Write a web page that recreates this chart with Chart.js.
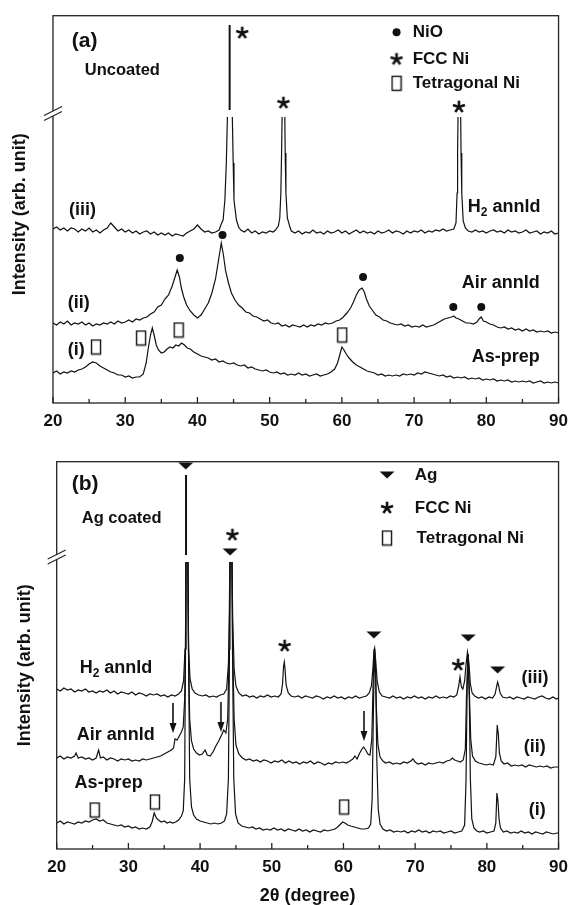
<!DOCTYPE html>
<html>
<head>
<meta charset="utf-8">
<script src="https://cdn.jsdelivr.net/npm/chart.js@4.4.1/dist/chart.umd.min.js"></script>
<style>
  html, body { margin: 0; padding: 0; background: #fff; overflow: hidden; }
  #wrap { position: relative; width: 576px; height: 905px; }
  canvas { position: absolute; left: 0; }
  #chartA { top: 0; }
  #chartB { top: 445px; }
</style>
</head>
<body>
<div id="wrap">
  <canvas id="chartA" width="576" height="445"></canvas>
  <canvas id="chartB" width="576" height="460"></canvas>
</div>
<script>
const FONT = "'Liberation Sans', Arial, Helvetica, sans-serif";
const INK = '#111';
Chart.defaults.font.family = FONT;
Chart.defaults.color = INK;

// ---------- data (2theta in degrees, intensity in arb. units) ----------
const xTickLabels = [20, 30, 40, 50, 60, 70, 80, 90];

// (a) uncoated
const h2AnnldA = [[20,174],[20.5,176],[21,173],[21.5,175],[22,172],[22.5,175],[23,174],[23.5,171],[24,174],[24.5,172],[25,175],[25.5,171],[26,173],[26.5,170],[27,173],[27.5,175],[28,180],[28.5,176],[29,172],[29.5,174],[30,171],[30.5,173],[31,170],[31.5,172],[32,169],[32.5,171],[33,172],[33.5,169],[34,171],[34.5,168],[35,170],[35.5,168],[36,170],[36.5,167],[37,169],[37.5,168],[38,167],[38.5,170],[39,172],[39.5,174],[40,178],[40.5,174],[41,171],[41.5,172],[42,170],[42.5,171],[43,173],[43.3,179],[43.55,183],[43.8,203],[44,240],[44.15,286],[44.5,null],[44.83,286],[44.95,240],[45.06,203],[45.4,183],[45.7,176],[46,173],[46.5,171],[47,174],[47.5,170],[48,172],[48.5,169],[49,171],[49.5,170],[50,172],[50.5,171],[50.8,173],[51.2,177],[51.4,185],[51.55,210],[51.65,250],[51.72,286],[51.9,null],[52.1,286],[52.15,250],[52.25,210],[52.45,185],[52.8,176],[53,172],[53.5,170],[54,172],[54.5,169],[55,171],[55.5,170],[56,173],[56.5,170],[57,171],[57.5,169],[58,172],[58.5,170],[59,171],[59.5,173],[60,170],[60.5,172],[61,169],[61.5,171],[62,173],[62.5,170],[63,172],[63.5,170],[64,171],[64.5,169],[65,172],[65.5,170],[66,171],[66.5,173],[67,170],[67.5,172],[68,171],[68.5,169],[69,172],[69.5,170],[70,172],[70.5,171],[71,173],[71.5,170],[72,172],[72.5,171],[73,173],[73.5,172],[74,174],[74.5,172],[75,173],[75.5,174],[75.8,180],[75.95,210],[76.02,250],[76.08,286],[76.25,null],[76.45,286],[76.5,250],[76.6,210],[76.8,182],[77.1,175],[77.5,172],[78,171],[78.5,173],[79,171],[79.5,172],[80,170],[80.5,172],[81,173],[81.5,171],[82,172],[82.5,170],[83,173],[83.5,171],[84,172],[84.5,170],[85,171],[85.5,173],[86,170],[86.5,171],[87,172],[87.5,169],[88,171],[88.5,170],[89,172],[89.5,169],[90,170]];
const h2PeakTopA = [[44.46,293],[44.46,378]];

const airAnnldA = [[20,80],[20.5,78],[21,81],[21.5,79],[22,82],[22.5,78],[23,80],[23.5,79],[24,81],[24.5,78],[25,80],[25.5,77],[26,79],[26.5,78],[27,80],[27.5,79],[28,81],[28.5,79],[29,82],[29.5,80],[30,81],[30.5,83],[31,81],[31.5,84],[32,83],[32.5,85],[33,86],[33.5,89],[34,91],[34.5,96],[35,98],[35.5,104],[36,108],[36.5,117],[36.9,126],[37.2,133],[37.5,126],[37.8,114],[38.1,106],[38.5,98],[39,92],[39.5,88],[40,85],[40.5,88],[41,94],[41.5,100],[42,110],[42.5,124],[42.9,142],[43.3,160],[43.6,148],[43.9,132],[44.3,120],[44.7,110],[45.2,103],[45.7,98],[46.2,95],[46.7,91],[47.2,90],[47.7,87],[48.2,86],[48.7,84],[49.2,82],[49.7,83],[50.2,80],[50.7,79],[51.2,80],[51.7,77],[52.2,78],[52.7,76],[53.2,78],[53.7,77],[54.2,76],[54.7,78],[55.2,76],[55.7,78],[56.2,77],[56.7,79],[57.2,78],[57.7,80],[58.2,79],[58.7,80],[59.2,82],[59.7,83],[60.2,86],[60.7,90],[61.2,95],[61.6,101],[62,108],[62.4,113],[62.8,115],[63.1,111],[63.4,104],[63.8,97],[64.2,93],[64.7,88],[65.2,86],[65.7,83],[66.2,82],[66.7,80],[67.2,79],[67.7,78],[68.2,79],[68.7,77],[69.2,78],[69.7,76],[70.2,77],[70.7,76],[71.2,78],[71.7,76],[72.2,77],[72.7,78],[73.2,80],[73.7,82],[74.2,84],[74.7,85],[75.2,86],[75.5,87],[75.8,85],[76.2,84],[76.7,82],[77.2,80],[77.7,80],[78.2,79],[78.7,81],[79,84],[79.3,86],[79.6,82],[80,81],[80.5,79],[81,78],[81.5,76],[82,75],[82.5,76],[83,74],[83.5,75],[84,73],[84.5,74],[85,72],[85.5,74],[86,72],[86.5,73],[87,71],[87.5,72],[88,71],[88.5,72],[89,70],[89.5,71],[90,70]];

const asPrepA = [[20,30],[20.5,32],[21,29],[21.5,31],[22,30],[22.5,32],[23,31],[23.5,33],[24,34],[24.5,36],[25,39],[25.5,41],[26,40],[26.5,37],[27,35],[27.5,33],[28,31],[28.5,30],[29,28],[29.5,28],[30,26],[30.5,27],[31,25],[31.5,26],[32,26],[32.5,29],[32.9,40],[33.2,55],[33.5,68],[33.75,75],[34,68],[34.3,58],[34.6,53],[35,50],[35.4,51],[35.8,54],[36.2,56],[36.6,55],[37,58],[37.4,57],[37.8,60],[38.2,58],[38.6,55],[39,54],[39.5,51],[40,49],[40.5,47],[41,46],[41.5,45],[42,43],[42.5,44],[43,41],[43.5,42],[44,40],[44.5,39],[45,40],[45.5,38],[46,37],[46.5,38],[47,35],[47.5,36],[48,34],[48.5,33],[49,32],[49.5,33],[50,31],[50.5,30],[51,31],[51.5,29],[52,30],[52.5,28],[53,29],[53.5,28],[54,30],[54.5,28],[55,29],[55.5,27],[56,28],[56.5,29],[57,27],[57.5,28],[58,29],[58.5,31],[59,34],[59.4,40],[59.7,48],[60,56],[60.3,53],[60.6,49],[61,45],[61.5,41],[62,38],[62.5,36],[63,34],[63.5,32],[64,31],[64.5,30],[65,28],[65.5,29],[66,27],[66.5,28],[67,27],[67.5,28],[68,27],[68.5,29],[69,28],[69.5,29],[70,28],[70.5,30],[71,29],[71.5,31],[72,30],[72.5,29],[73,28],[73.5,27],[74,28],[74.5,26],[75,27],[75.5,25],[76,26],[76.5,25],[77,26],[77.5,24],[78,25],[78.5,24],[79,25],[79.5,23],[80,24],[80.5,23],[81,24],[81.5,22],[82,23],[82.5,22],[83,23],[83.5,21],[84,22],[84.5,21],[85,22],[85.5,21],[86,22],[86.5,20],[87,21],[87.5,22],[88,20],[88.5,21],[89,20],[89.5,21],[90,20]];

const nioDotsA = [[37.56,145],[43.47,168],[62.93,126],[75.43,96],[79.3,96]];
const fccStarsA = [[46.2,370],[51.9,300],[76.2,296]];
const tetraBoxesA = [[25.96,56],[32.2,65],[37.4,73],[60.05,68]];

// (b) Ag coated
const h2AnnldB = [[20,160],[20.5,158],[21,161],[21.5,159],[22,160],[22.5,157],[23,159],[23.5,158],[24,160],[24.5,157],[25,158],[25.5,156],[26,158],[26.5,157],[27,159],[27.5,156],[28,158],[28.5,155],[29,157],[29.5,156],[30,155],[30.5,157],[31,154],[31.5,156],[32,155],[32.5,153],[33,155],[33.5,154],[34,155],[34.5,153],[35,154],[35.5,152],[36,154],[36.5,153],[37,155],[37.4,158],[37.7,168],[37.9,200],[38,287],[38.15,null],[38.3,287],[38.4,200],[38.6,170],[38.9,160],[39.3,156],[39.8,154],[40.3,153],[40.8,154],[41.3,152],[41.8,153],[42.3,152],[42.8,154],[43.3,155],[43.7,160],[43.95,185],[44.1,230],[44.2,287],[44.3,null],[44.45,287],[44.55,230],[44.75,180],[45,163],[45.4,156],[45.9,153],[46.4,154],[46.9,152],[47.4,153],[47.9,151],[48.4,153],[48.9,152],[49.4,154],[49.9,152],[50.4,153],[50.9,152],[51.3,155],[51.5,165],[51.65,183],[51.75,187],[51.85,180],[52,164],[52.3,156],[52.7,153],[53.2,152],[53.7,153],[54.2,151],[54.7,153],[55.2,152],[55.7,151],[56.2,153],[56.7,152],[57.2,150],[57.7,152],[58.2,151],[58.7,153],[59.2,151],[59.7,152],[60.2,150],[60.7,152],[61.2,151],[61.7,153],[62.2,151],[62.7,152],[63.2,153],[63.6,156],[63.9,163],[64.1,180],[64.25,198],[64.35,201],[64.5,188],[64.7,168],[65,157],[65.4,153],[65.9,152],[66.4,151],[66.9,153],[67.4,151],[67.9,152],[68.4,150],[68.9,152],[69.4,151],[69.9,153],[70.4,151],[70.9,152],[71.4,150],[71.9,152],[72.4,151],[72.9,153],[73.4,151],[73.9,152],[74.4,151],[74.9,153],[75.4,152],[75.8,154],[76.05,162],[76.25,172],[76.45,162],[76.65,160],[76.9,168],[77.1,185],[77.3,197],[77.5,186],[77.7,165],[77.95,156],[78.3,153],[78.8,151],[79.3,152],[79.8,150],[80.3,152],[80.8,151],[81.15,155],[81.35,162],[81.5,167],[81.65,163],[81.85,156],[82.2,152],[82.7,151],[83.2,152],[83.7,150],[84.2,152],[84.7,151],[85.2,150],[85.7,152],[86.2,151],[86.7,150],[87.2,152],[87.7,153],[88.2,151],[88.7,150],[89.2,152],[89.7,150],[90,151]];
const agPeakTopB = [[38.04,294],[38.04,374]];

const airAnnldB = [[20,91],[20.5,93],[21,90],[21.5,92],[22,91],[22.5,93],[22.7,96],[23,91],[23.5,92],[24,90],[24.5,91],[25,89],[25.5,91],[25.85,99],[26.1,91],[26.5,92],[27,89],[27.5,91],[28,90],[28.5,88],[29,90],[29.5,89],[30,90],[30.5,88],[31,89],[31.5,88],[32,90],[32.5,89],[33,90],[33.5,91],[34,92],[34.5,93],[35,95],[35.5,97],[36,99],[36.3,101],[36.5,110],[36.8,109],[37.1,113],[37.4,117],[37.65,122],[37.85,150],[37.95,200],[38.05,287],[38.2,null],[38.3,287],[38.4,190],[38.55,130],[38.8,108],[39.1,100],[39.5,96],[39.9,94],[40.3,95],[40.7,99],[41,94],[41.4,93],[41.8,97],[42.2,103],[42.6,108],[43,114],[43.3,119],[43.6,116],[43.85,130],[44,180],[44.15,287],[44.3,null],[44.45,287],[44.55,200],[44.75,130],[45,104],[45.4,95],[45.9,91],[46.4,89],[46.9,90],[47.4,88],[47.9,89],[48.4,87],[48.9,89],[49.4,88],[49.9,86],[50.4,88],[50.9,87],[51.4,89],[51.9,86],[52.4,88],[52.9,86],[53.4,87],[53.9,85],[54.4,87],[54.9,86],[55.4,88],[55.9,85],[56.4,87],[56.9,86],[57.4,84],[57.9,86],[58.4,85],[58.9,87],[59.4,86],[59.9,87],[60.4,86],[60.9,88],[61.3,90],[61.6,93],[61.9,90],[62.2,95],[62.5,99],[62.8,102],[63.1,99],[63.4,95],[63.7,94],[63.95,110],[64.15,170],[64.3,200],[64.45,185],[64.6,140],[64.8,105],[65.1,92],[65.5,88],[65.9,86],[66.4,87],[66.9,85],[67.4,86],[67.9,85],[68.4,87],[68.9,86],[69.4,88],[69.7,90],[70,87],[70.4,85],[70.9,86],[71.4,84],[71.9,86],[72.4,85],[72.9,86],[73.4,87],[73.9,86],[74.4,88],[74.9,89],[75.2,91],[75.5,89],[75.9,88],[76.3,87],[76.7,89],[77,100],[77.15,150],[77.35,195],[77.55,160],[77.75,110],[78,93],[78.4,88],[78.9,86],[79.4,85],[79.9,84],[80.4,85],[80.9,84],[81.25,92],[81.45,124],[81.6,115],[81.75,96],[82,88],[82.4,85],[82.9,86],[83.4,83],[83.9,84],[84.4,83],[84.9,84],[85.4,82],[85.9,84],[86.4,83],[86.9,82],[87.4,83],[87.9,82],[88.4,83],[88.9,81],[89.4,82],[90,82]];

const asPrepB = [[20,26],[20.5,28],[21,25],[21.5,27],[22,26],[22.5,25],[23,27],[23.5,26],[24,28],[24.5,27],[25,29],[25.5,30],[26,28],[26.5,29],[27,26],[27.5,25],[28,24],[28.5,23],[29,24],[29.5,22],[30,23],[30.5,21],[31,22],[31.5,20],[32,21],[32.5,20],[33,22],[33.3,27],[33.6,36],[33.9,31],[34.2,29],[34.6,27],[35,28],[35.4,26],[35.8,27],[36.2,26],[36.6,27],[37,29],[37.4,33],[37.65,38],[37.85,70],[37.97,200],[38.03,287],[38.15,null],[38.3,287],[38.38,200],[38.55,70],[38.8,42],[39.1,34],[39.5,30],[40,28],[40.5,27],[41,26],[41.5,25],[42,26],[42.5,25],[43,26],[43.4,28],[43.7,35],[43.95,70],[44.1,200],[44.17,287],[44.3,null],[44.45,287],[44.52,200],[44.7,70],[44.95,35],[45.3,26],[45.8,23],[46.3,22],[46.8,21],[47.3,22],[47.8,20],[48.3,21],[48.8,19],[49.3,20],[49.8,19],[50.3,21],[50.8,19],[51.3,20],[51.8,18],[52.3,20],[52.8,19],[53.3,18],[53.8,20],[54.3,18],[54.8,19],[55.3,17],[55.8,19],[56.3,18],[56.8,17],[57.3,19],[57.8,18],[58.3,19],[58.8,20],[59.2,22],[59.6,25],[59.9,27],[60.2,26],[60.6,24],[61,23],[61.5,22],[62,21],[62.5,20],[63,20],[63.5,21],[63.8,25],[64,50],[64.2,150],[64.35,200],[64.5,170],[64.65,90],[64.85,40],[65.1,25],[65.5,20],[66,18],[66.5,19],[67,17],[67.5,18],[68,17],[68.5,18],[69,16],[69.5,18],[70,17],[70.5,19],[71,17],[71.5,18],[72,16],[72.5,18],[73,17],[73.5,18],[74,16],[74.5,17],[75,18],[75.5,16],[76,17],[76.5,18],[76.9,24],[77.1,70],[77.25,160],[77.4,195],[77.55,150],[77.7,70],[77.9,30],[78.2,21],[78.6,18],[79,17],[79.5,18],[80,16],[80.5,17],[81,18],[81.25,26],[81.4,56],[81.55,48],[81.7,30],[81.9,21],[82.3,17],[82.8,18],[83.3,16],[83.8,17],[84.3,16],[84.8,18],[85.3,16],[85.8,17],[86.3,15],[86.8,17],[87.3,16],[87.8,15],[88.3,17],[88.8,16],[89.3,15],[89.8,16],[90,16]];

const agTrianglesB = [[38.0,383],[44.19,297],[64.24,214],[77.4,211],[81.5,179]];
const fccStarsB = [[44.51,314],[51.8,203],[76.0,184]];
const tetraBoxesB = [[25.3,39],[33.7,47],[60.1,42]];
const arrowsB = [[36.22,131],[42.9,132],[62.86,123]];

// ---------- marker images ----------
function makeImg(w, h, draw) {
  const c = document.createElement('canvas');
  c.width = w; c.height = h;
  const g = c.getContext('2d');
  g.fillStyle = INK; g.strokeStyle = INK;
  draw(g);
  return c;
}
const starImg = makeImg(16, 16, g => {
  g.lineWidth = 2.6;
  for (let k = 0; k < 5; k++) {
    const a = -Math.PI / 2 + k * 2 * Math.PI / 5;
    g.beginPath(); g.moveTo(8, 8);
    g.lineTo(8 + 6.3 * Math.cos(a), 8 + 6.3 * Math.sin(a));
    g.stroke();
  }
});
const boxImg = makeImg(12, 17, g => { g.lineWidth = 1.4; g.strokeRect(1.5, 1.5, 9, 14); });
const triImg = makeImg(16, 8, g => {
  g.beginPath(); g.moveTo(0.5, 0.5); g.lineTo(15.5, 0.5); g.lineTo(8, 7.5); g.closePath(); g.fill();
});
const arrowImg = makeImg(8, 30, g => {
  g.lineWidth = 1.6;
  g.beginPath(); g.moveTo(4, 0); g.lineTo(4, 22); g.stroke();
  g.beginPath(); g.moveTo(0.5, 20); g.lineTo(7.5, 20); g.lineTo(4, 30); g.closePath(); g.fill();
});

const pts = arr => arr.map(([x, y]) => ({ x, y }));
const curve = (arr, w) => ({
  data: pts(arr), borderColor: INK, borderWidth: w || 1.2,
  pointRadius: 0, tension: 0, spanGaps: false, fill: false
});
const marks = (arr, style, r) => ({
  data: pts(arr), showLine: false, pointStyle: style, pointRadius: r || 4,
  backgroundColor: INK, borderColor: INK, borderWidth: 0, clip: false
});

// ---------- labels & legend (positions in data units) ----------
const labelsA = [
  { t: '(a)', x: 22.6, y: 362, size: 21 },
  { t: 'Uncoated', x: 24.4, y: 333, size: 16.5 },
  { t: '(iii)', x: 22.2, y: 193 },
  { t: '(ii)', x: 22.05, y: 100 },
  { t: '(i)', x: 22.05, y: 53 },
  { t: 'H_2 annld', x: 87.5, y: 196, align: 'right' },
  { t: 'Air annld', x: 87.4, y: 120, align: 'right' },
  { t: 'As-prep', x: 87.4, y: 46, align: 'right' }
];
const legendA = [
  { mark: 'dot', x: 67.57, y: 370.7, tx: 69.8, t: 'NiO' },
  { mark: starImg, x: 67.57, y: 343.7, tx: 69.8, t: 'FCC Ni' },
  { mark: boxImg, x: 67.57, y: 319.7, tx: 69.8, t: 'Tetragonal Ni' }
];
const labelsB = [
  { t: '(b)', x: 22.1, y: 365, size: 21 },
  { t: 'Ag coated', x: 23.5, y: 331, size: 16.5 },
  { t: 'H_2 annld', x: 23.2, y: 181 },
  { t: 'Air annld', x: 22.8, y: 114 },
  { t: 'As-prep', x: 22.5, y: 66 },
  { t: '(iii)', x: 88.6, y: 171, align: 'right' },
  { t: '(ii)', x: 88.2, y: 102, align: 'right' },
  { t: '(i)', x: 88.2, y: 39, align: 'right' }
];
const legendB = [
  { mark: triImg, x: 66.08, y: 374, tx: 69.95, t: 'Ag' },
  { mark: starImg, x: 66.08, y: 341, tx: 69.95, t: 'FCC Ni' },
  { mark: boxImg, x: 66.08, y: 311, tx: 70.2, t: 'Tetragonal Ni' }
];

function drawText(ctx, t, px, py, size, align) {
  const segs = t.split(/(_.)/).filter(Boolean).map(s => {
    const sub = s[0] === '_';
    const txt = sub ? s.slice(1) : s;
    const fs = sub ? Math.round(size * 0.65) : size;
    ctx.font = `bold ${fs}px ${FONT}`;
    return { txt, sub, fs, w: ctx.measureText(txt).width };
  });
  const total = segs.reduce((a, s) => a + s.w, 0);
  let x = align === 'right' ? px - total : px;
  ctx.textAlign = 'left'; ctx.textBaseline = 'middle';
  segs.forEach(s => {
    ctx.font = `bold ${s.fs}px ${FONT}`;
    ctx.fillText(s.txt, x, py + (s.sub ? size * 0.32 : 0));
    x += s.w;
  });
}

// frame, inward ticks, axis break, labels, legend
const decor = {
  id: 'decor',
  afterDatasetsDraw(chart, args, o) {
    const { ctx, chartArea: a, scales: { x, y } } = chart;
    ctx.save();
    ctx.strokeStyle = '#222'; ctx.fillStyle = INK; ctx.lineWidth = 1.3;
    ctx.strokeRect(a.left, a.top, a.right - a.left, a.bottom - a.top);
    x.ticks.forEach(t => {
      const px = x.getPixelForValue(t.value);
      const len = t.value % 10 === 0 ? 6 : 4;
      ctx.beginPath(); ctx.moveTo(px, a.bottom); ctx.lineTo(px, a.bottom - len); ctx.stroke();
    });
    // axis break
    const yb = y.getPixelForValue(o.breakAt), xl = a.left;
    ctx.fillStyle = '#fff';
    ctx.beginPath();
    ctx.moveTo(xl - 9, yb + 7); ctx.lineTo(xl + 9, yb - 2);
    ctx.lineTo(xl + 9, yb - 7); ctx.lineTo(xl - 9, yb + 2); ctx.closePath(); ctx.fill();
    ctx.lineWidth = 1.2;
    [2.5, -2.5].forEach(d => {
      ctx.beginPath(); ctx.moveTo(xl - 9, yb + d + 4.5); ctx.lineTo(xl + 9, yb + d - 4.5); ctx.stroke();
    });
    ctx.fillStyle = INK;
    o.labels.forEach(L => drawText(ctx, L.t, x.getPixelForValue(L.x), y.getPixelForValue(L.y), L.size || 18, L.align));
    o.legend.forEach(L => {
      const px = x.getPixelForValue(L.x), py = y.getPixelForValue(L.y);
      if (L.mark === 'dot') {
        ctx.beginPath(); ctx.arc(px, py, 4, 0, Math.PI * 2); ctx.fill();
      } else {
        ctx.drawImage(L.mark, px - L.mark.width / 2, py - L.mark.height / 2);
      }
      drawText(ctx, L.t, x.getPixelForValue(L.tx), py, 17, 'left');
    });
    ctx.restore();
  }
};

function panel(id, p) {
  return new Chart(document.getElementById(id), {
    type: 'line',
    data: { datasets: p.datasets },
    options: {
      responsive: false,
      animation: false,
      events: [],
      layout: { padding: p.padding },
      plugins: { legend: { display: false }, tooltip: { enabled: false }, decor: p.decor },
      scales: {
        x: {
          type: 'linear', min: 20, max: 90,
          ticks: {
            stepSize: 5, autoSkip: false, maxRotation: 0, padding: 8, color: INK,
            font: { size: 17, weight: 'bold' },
            callback: v => xTickLabels.includes(v) ? v : ''
          },
          grid: { display: false, drawTicks: false },
          border: { display: false },
          title: p.xTitle,
          afterFit: s => { s.height = p.xHeight; }
        },
        y: {
          min: 0, max: 387.3,
          ticks: { display: false },
          grid: { display: false, drawTicks: false },
          border: { display: false },
          title: {
            display: true, text: p.yTitle, color: INK,
            font: { size: 18, weight: 'bold', lineHeight: 1 },
            padding: { top: p.yTitlePad, bottom: 0 }
          },
          afterFit: s => { s.width = p.yWidth; }
        }
      }
    },
    plugins: [decor]
  });
}

panel('chartA', {
  padding: { left: 0, right: 10, top: 15.7, bottom: 0 },
  xHeight: 42, yWidth: 53, yTitlePad: 11,
  yTitle: 'Intensity (arb. unit)\u00a0\u00a0',
  xTitle: { display: false },
  decor: { breakAt: 289.5, labels: labelsA, legend: legendA },
  datasets: [
    curve(h2AnnldA), curve(h2PeakTopA, 2), curve(airAnnldA), curve(asPrepA),
    marks(nioDotsA, 'circle', 4), marks(fccStarsA, starImg), marks(tetraBoxesA, boxImg)
  ]
});

panel('chartB', {
  padding: { left: 0, right: 13, top: 16.7, bottom: 0 },
  xHeight: 56, yWidth: 56.7, yTitlePad: 16,
  yTitle: 'Intensity (arb. unit)\u00a0\u00a0\u00a0\u00a0',
  xTitle: {
    display: true, text: '2\u03b8 (degree)', color: INK,
    font: { size: 18, weight: 'bold', lineHeight: 1 }, padding: { top: 0, bottom: 0 }
  },
  decor: { breakAt: 292, labels: labelsB, legend: legendB },
  datasets: [
    curve(h2AnnldB), curve(agPeakTopB, 2), curve(airAnnldB), curve(asPrepB),
    marks(agTrianglesB, triImg), marks(fccStarsB, starImg), marks(tetraBoxesB, boxImg), marks(arrowsB, arrowImg)
  ]
});
</script>
</body>
</html>
